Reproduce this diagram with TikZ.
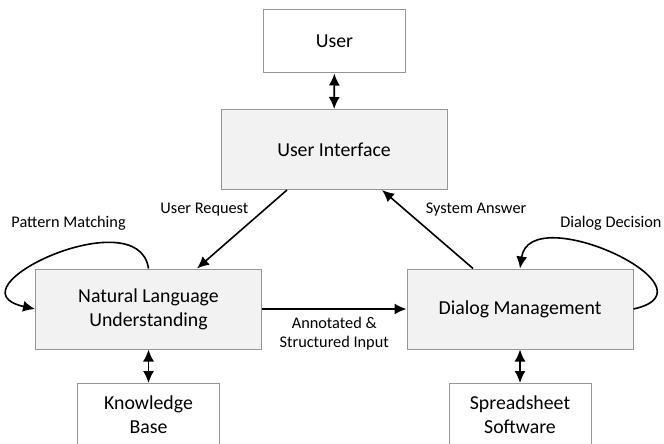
\documentclass[tikz,border=0pt]{standalone}
\usepackage{fontspec}
\setmainfont{Carlito}
\usepackage{tikz}
\usetikzlibrary{arrows.meta}
\usetikzlibrary{calc,positioning}
\definecolor{boxline}{RGB}{150,150,150}
\definecolor{boxfill}{RGB}{242,242,242}
\tikzset{%
  >={Latex[width=11pt,length=12pt]},
  % Specifications for style of nodes:
  base/.style = {rectangle, draw=boxline, line width=1pt,
    minimum width=142pt,
    minimum height=63pt,
    align=center, font=\fontsize{19.8}{24}\selectfont},
  module/.style = {base, fill=boxfill, minimum width=226pt,
    minimum height=80pt},
  outer/.style = {base, fill=white},
  flow/.style = {->, line width=1.6pt},
  both/.style = {<->, line width=1.6pt},
  lbl/.style = {font=\fontsize{16.3}{19.5}\selectfont, align=center},
}

\begin{document}
\begin{tikzpicture}[node distance=108pt]
        \useasboundingbox (0,0) rectangle (664pt,-444pt);
        % Specification of nodes (position, etc.)
        \node(User)[outer] at (334.5pt,-41.5pt){User};
        \node(UI)[module,below of=User,xshift=-0.5pt]{User Interface};
        \node(NLU)[module,below of=UI,yshift=-51.5pt,xshift=-185.5pt]{
          Natural Language \\
          Understanding
        };
        \node(DM)[module,right of=NLU,xshift=263.5pt]{Dialog Management};
        \node(KB)[outer,below of=NLU,yshift=2pt]{Knowledge \\ Base};
        \node(SS)[outer,below of=DM,yshift=2pt]{Spreadsheet \\ Software};
        \draw[both](User) -- (UI);
        \draw[both](NLU) -- (KB);
        \draw[both](DM) -- (SS);
        \draw[flow]([xshift=-47pt]UI.south) -- node[lbl,pos=0.25,left,xshift=-12pt]{User Request} ([xshift=48.5pt]NLU.north);
        \draw[flow]([xshift=-47pt]DM.north) -- node[lbl,pos=0.75,right,xshift=17pt]{System Answer} ([xshift=48pt]UI.south);
        \draw[flow](NLU) -- node[lbl,below,yshift=-4pt]{Annotated \& \\ Structured Input} (DM);
        \draw[flow](NLU.north) .. controls +(-10pt,70pt) and +(-90pt,20pt) .. node[lbl,pos=0.35,above=10pt,xshift=-22pt]{Pattern Matching} (NLU.west);
        \draw[flow](DM.east) .. controls +(90pt,20pt) and +(10pt,70pt) .. node[lbl,pos=0.65,above=10pt,xshift=33pt]{Dialog Decision} (DM.north);
    \end{tikzpicture}
\end{document}
